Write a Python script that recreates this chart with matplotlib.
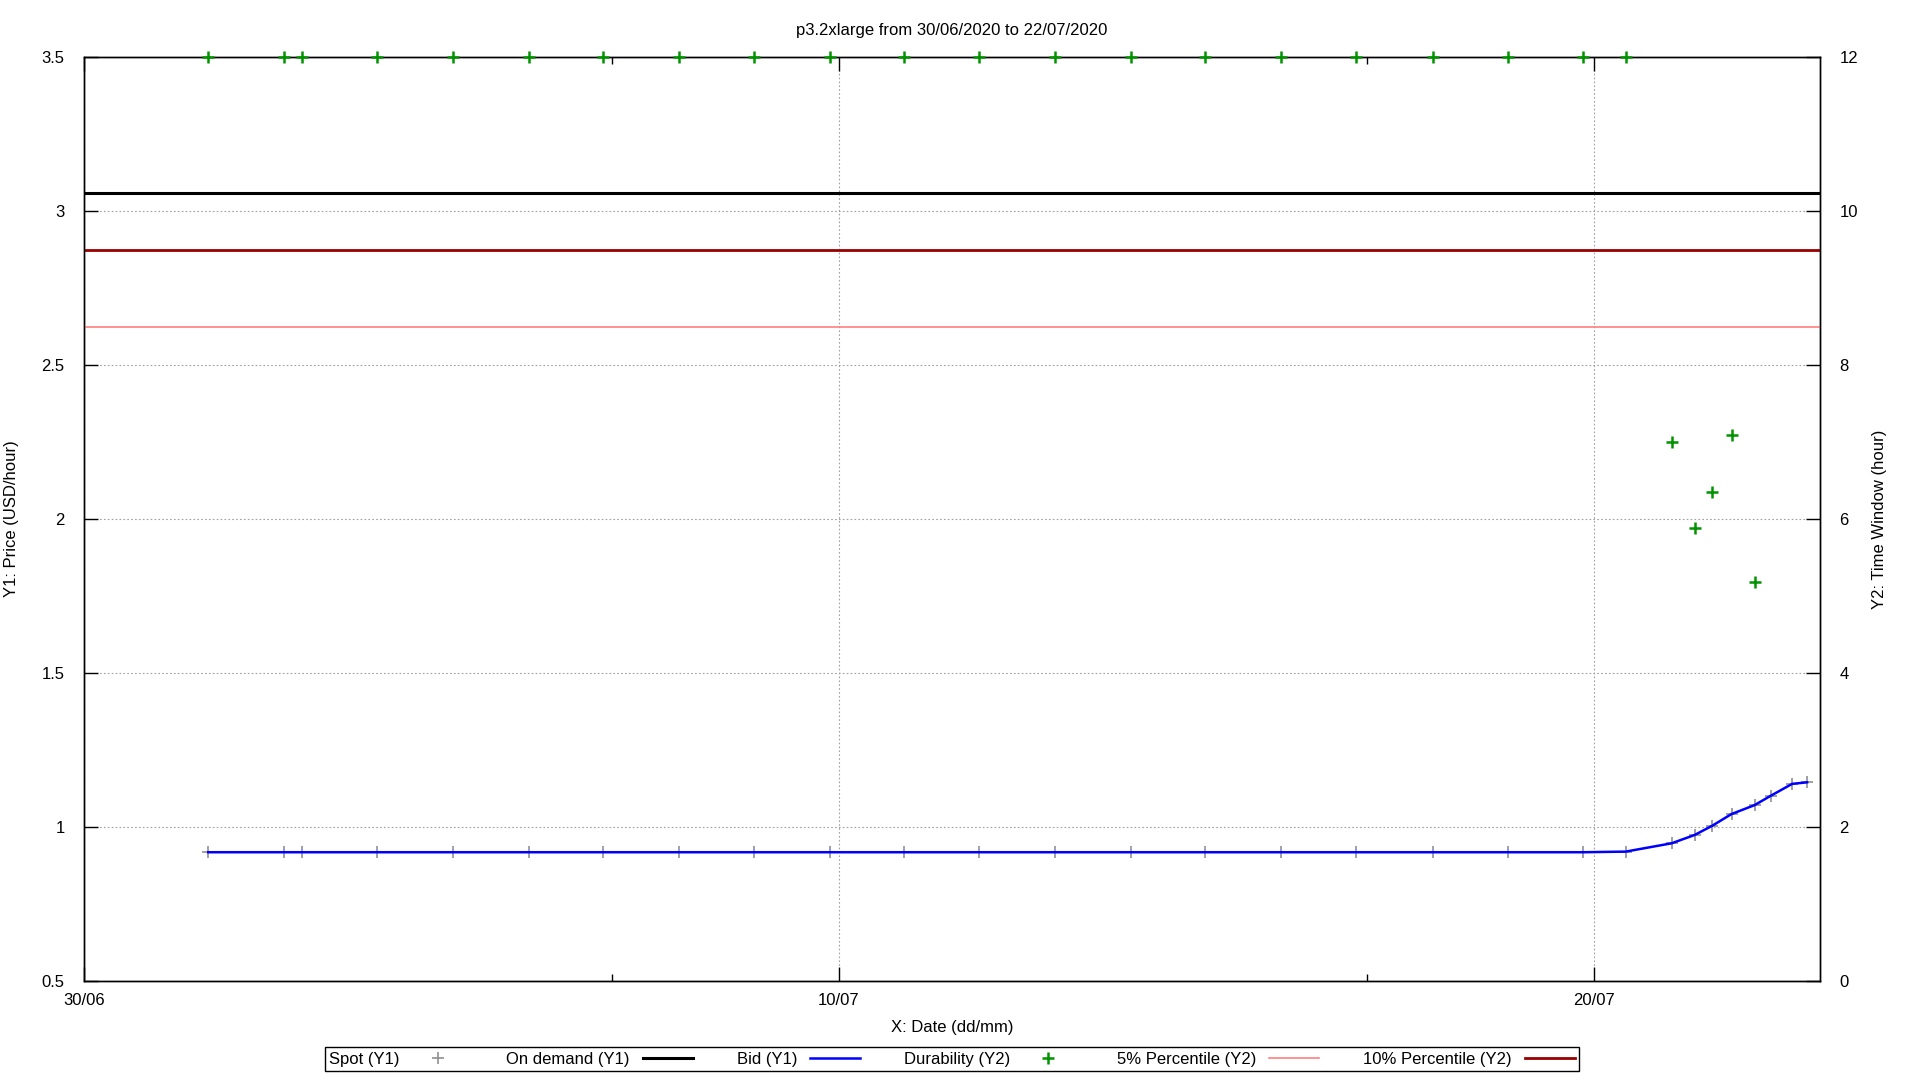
import matplotlib.pyplot as plt
import matplotlib.dates as mdates
import pandas as pd
import numpy as np

plt.rcParams['font.family'] = ['Liberation Sans', 'DejaVu Sans']
plt.rcParams['font.size'] = 12

# sample times (Spot / Bid / Durability share the same timestamps)
times = pd.to_datetime([
    "2020-07-01 15:30", "2020-07-02 15:36", "2020-07-02 21:22", "2020-07-03 21:07",
    "2020-07-04 21:17", "2020-07-05 21:25", "2020-07-06 21:09", "2020-07-07 21:16",
    "2020-07-08 21:00", "2020-07-09 21:07", "2020-07-10 20:51", "2020-07-11 20:36",
    "2020-07-12 20:43", "2020-07-13 20:48", "2020-07-14 20:33", "2020-07-15 20:41",
    "2020-07-16 20:24", "2020-07-17 20:56", "2020-07-18 20:41", "2020-07-19 20:47",
    "2020-07-20 10:12", "2020-07-21 00:49", "2020-07-21 08:08", "2020-07-21 13:44",
    "2020-07-21 19:52", "2020-07-22 03:12", "2020-07-22 08:17", "2020-07-22 15:09",
    "2020-07-22 19:54",
])
spot_price = [0.918, 0.918, 0.918, 0.918, 0.918, 0.918, 0.918, 0.918, 0.918, 0.918,
              0.918, 0.918, 0.918, 0.918, 0.918, 0.918, 0.918, 0.918, 0.918, 0.918,
              0.920, 0.947, 0.974, 1.004, 1.042, 1.071, 1.101, 1.140, 1.145]
bid_price = [0.918, 0.918, 0.918, 0.918, 0.918, 0.918, 0.918, 0.918, 0.918, 0.918,
             0.918, 0.918, 0.918, 0.918, 0.918, 0.918, 0.918, 0.918, 0.918, 0.918,
             0.920, 0.947, 0.974, 1.004, 1.042, 1.071, 1.101, 1.140, 1.145]
durability = [12, 12, 12, 12, 12, 12, 12, 12, 12, 12,
              12, 12, 12, 12, 12, 12, 12, 12, 12, 12,
              12, 7.0, 5.88, 6.35, 7.09, 5.18, np.nan, np.nan, np.nan]
on_demand = 3.06
pct5 = 8.5
pct10 = 9.5

fig = plt.figure(figsize=(19.2, 10.8), dpi=100)
ax = fig.add_axes([0.04375, 0.0917, 0.90417, 0.8555])
ax2 = ax.twinx()

ax.plot(times, spot_price, ls='none', marker='+', ms=8, mew=1.2, color='#909090', label='Spot (Y1)')
ax.axhline(on_demand, color='black', lw=2.2, label='On demand (Y1)')
ax.plot(times, bid_price, color='#0000ff', lw=1.8, label='Bid (Y1)')
ax2.plot(times, durability, ls='none', marker='+', ms=9, mew=1.8, color='#009400',
         label='Durability (Y2)', clip_on=False, zorder=5)
ax2.axhline(pct5, color='#ff7f7f', lw=1.2, label='5% Percentile (Y2)')
ax2.axhline(pct10, color='#990000', lw=2.0, label='10% Percentile (Y2)')

ax.set_xlim(pd.Timestamp("2020-06-30"), pd.Timestamp("2020-07-23"))
ax.set_ylim(0.5, 3.5)
ax2.set_ylim(0, 12)
ax.set_yticks([0.5, 1, 1.5, 2, 2.5, 3, 3.5])
ax.set_yticklabels(['0.5', '1', '1.5', '2', '2.5', '3', '3.5'])
ax2.set_yticks([0, 2, 4, 6, 8, 10, 12])

ax.set_xticks(pd.to_datetime(["2020-06-30", "2020-07-10", "2020-07-20"]))
ax.set_xticks(pd.to_datetime(["2020-07-07", "2020-07-17"]), minor=True)
ax.xaxis.set_major_formatter(mdates.DateFormatter('%d/%m'))

ax.tick_params(axis='x', which='major', direction='in', length=10, width=1, top=True, pad=9)
ax.tick_params(axis='x', which='minor', direction='in', length=5, width=1, top=True)
ax.tick_params(axis='y', direction='in', length=10, width=1, pad=14)
ax2.tick_params(axis='y', direction='in', length=10, width=1, pad=14)

ax.grid(True, which='major', color='#a0a0a0', lw=0.8, ls=(0, (1.5, 2)))
for a in (ax, ax2):
    for s in a.spines.values():
        s.set_linewidth(1.0)

ax.set_title('p3.2xlarge from 30/06/2020 to 22/07/2020', fontsize=12, pad=16)
ax.set_xlabel('X: Date (dd/mm)', labelpad=8)
ax.set_ylabel('Y1: Price (USD/hour)', labelpad=16)
ax2.set_ylabel('Y2: Time Window (hour)', labelpad=10)

h1, l1 = ax.get_legend_handles_labels()
h2, l2 = ax2.get_legend_handles_labels()
leg = fig.legend(h1 + h2, l1 + l2, loc='center', bbox_to_anchor=(0.4958, 0.0194),
                 ncol=6, markerfirst=False, fancybox=False, framealpha=1,
                 edgecolor='black', handlelength=3.0, columnspacing=2.6,
                 borderpad=0.25, handletextpad=0.8, fontsize=12)
leg.get_frame().set_linewidth(1.0)

plt.savefig('out.png', dpi=100)
